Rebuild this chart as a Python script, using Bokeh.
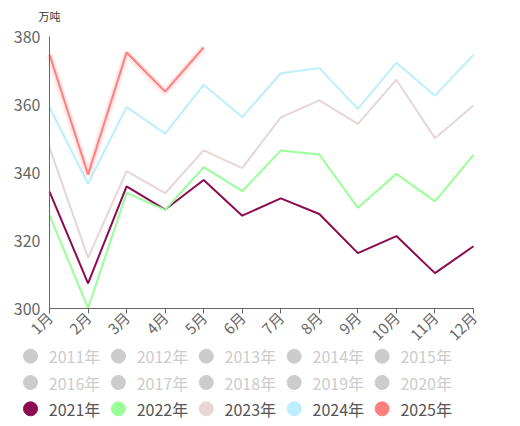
from math import pi
from bokeh.plotting import figure
from bokeh.models import Range1d, FixedTicker, Label, LinearAxis
from bokeh.embed import file_html
from bokeh.resources import INLINE

months = ["1月", "2月", "3月", "4月", "5月", "6月", "7月", "8月", "9月", "10月", "11月", "12月"]
y_ticks = [300, 320, 340, 360, 380]

y2021 = [334.4, 307.4, 335.9, 329.1, 337.8, 327.3, 332.4, 327.8, 316.3, 321.3, 310.4, 318.3]
y2022 = [327.4, 300.1, 334.0, 329.0, 341.6, 334.5, 346.5, 345.3, 329.6, 339.6, 331.5, 345.2]
y2023 = [347.4, 314.9, 340.4, 333.9, 346.5, 341.3, 356.2, 361.2, 354.3, 367.3, 350.1, 359.7]
y2024 = [359.2, 336.7, 359.3, 351.4, 365.8, 356.3, 369.2, 370.7, 358.7, 372.3, 362.6, 374.6]
y2025 = [374.7, 339.4, 375.3, 363.8, 376.8]

inactive_years = ["2011年", "2012年", "2013年", "2014年", "2015年",
                  "2016年", "2017年", "2018年", "2019年", "2020年"]
active_years = ["2021年", "2022年", "2023年", "2024年", "2025年"]
active_series = [y2021, y2022, y2023, y2024, y2025]
active_colors = ["#8B0A50", "#99FF99", "#E8D5D5", "#BBEEFF", "#FF7F7F"]
inactive_color = "#CCCCCC"

FONT = "Noto Sans CJK SC"
W, H = 520, 426
# pixel box of the plotting area (layout only)
X0_PX, X1_PX, YT_PX, YB_PX = 49, 473, 36, 308

n = len(months)
ymin, ymax = y_ticks[0], y_ticks[-1]
xs_px = (X1_PX - X0_PX) / (n - 1)
ys_px = (YB_PX - YT_PX) / (ymax - ymin)
x_range = Range1d(-X0_PX / xs_px, (n - 1) + (W - X1_PX) / xs_px)
y_range = Range1d(ymin - (H - YB_PX) / ys_px, ymax + YT_PX / ys_px)

p = figure(width=W, height=H, x_range=x_range, y_range=y_range,
           x_axis_type=None, y_axis_type=None,
           output_backend="svg", toolbar_location=None,
           min_border=0, min_border_left=0, min_border_right=0,
           min_border_top=0, min_border_bottom=0)
p.grid.visible = False
p.outline_line_color = None
p.extra_x_ranges = {"px": Range1d(0, W)}
p.extra_y_ranges = {"px": Range1d(H, 0)}

# lines
for name, ys, col in zip(active_years, active_series, active_colors):
    xs = list(range(len(ys)))
    if name == "2025年":
        p.line(xs, [v - 0.4 for v in ys], line_width=8, color=col, alpha=0.10)
        p.line(xs, ys, line_width=5, color=col, alpha=0.12)
    p.line(xs, ys, line_width=2, color=col)

# axes at fixed positions
xaxis = LinearAxis(fixed_location=ymin, bounds=(0, n - 1),
                   ticker=FixedTicker(ticks=list(range(n))),
                   major_label_overrides={i: m for i, m in enumerate(months)},
                   major_label_orientation=pi / 4,
                   major_tick_out=5, major_tick_in=0,
                   minor_tick_line_color=None,
                   axis_line_color="#666666", major_tick_line_color="#666666",
                   major_label_text_color="#666666", major_label_text_font_size="15px",
                   major_label_text_font=FONT, major_label_standoff=1)
yaxis = LinearAxis(fixed_location=0, bounds=(ymin, ymax),
                   ticker=FixedTicker(ticks=y_ticks),
                   major_tick_line_color=None, major_tick_out=0, major_tick_in=0,
                   minor_tick_line_color=None,
                   axis_line_color="#666666",
                   major_label_text_color="#666666", major_label_text_font_size="16px",
                   major_label_text_font=FONT, major_label_standoff=9)
p.add_layout(xaxis, "below")
p.add_layout(yaxis, "left")

# unit label
p.add_layout(Label(x=0, y=ymax, x_offset=-11, y_offset=21, text="万吨",
                   text_font_size="11px", text_color="#333333", text_font=FONT,
                   text_baseline="middle", text_align="left"))

# legend (3 rows x 5 columns), drawn in pixel coordinates
all_names = inactive_years + active_years
all_colors = [inactive_color] * len(inactive_years) + active_colors
text_colors = ["#CCCCCC"] * len(inactive_years) + ["#555555"] * len(active_years)
ncols = 5
col_x0, col_pitch = 30.0, 87.9
row_y0, row_pitch = 355.7, 26.3
mx = [col_x0 + col_pitch * (i % ncols) for i in range(len(all_names))]
my = [row_y0 + row_pitch * (i // ncols) for i in range(len(all_names))]
p.scatter(mx, my, size=14, marker="circle", color=all_colors,
          x_range_name="px", y_range_name="px")
p.text([x + 18.3 for x in mx], my, text=all_names, text_color=text_colors,
       text_font_size="16px", text_font={"value": FONT},
       text_baseline="middle", text_align="left",
       x_range_name="px", y_range_name="px")

open("out.html", "w").write(file_html(p, INLINE))
